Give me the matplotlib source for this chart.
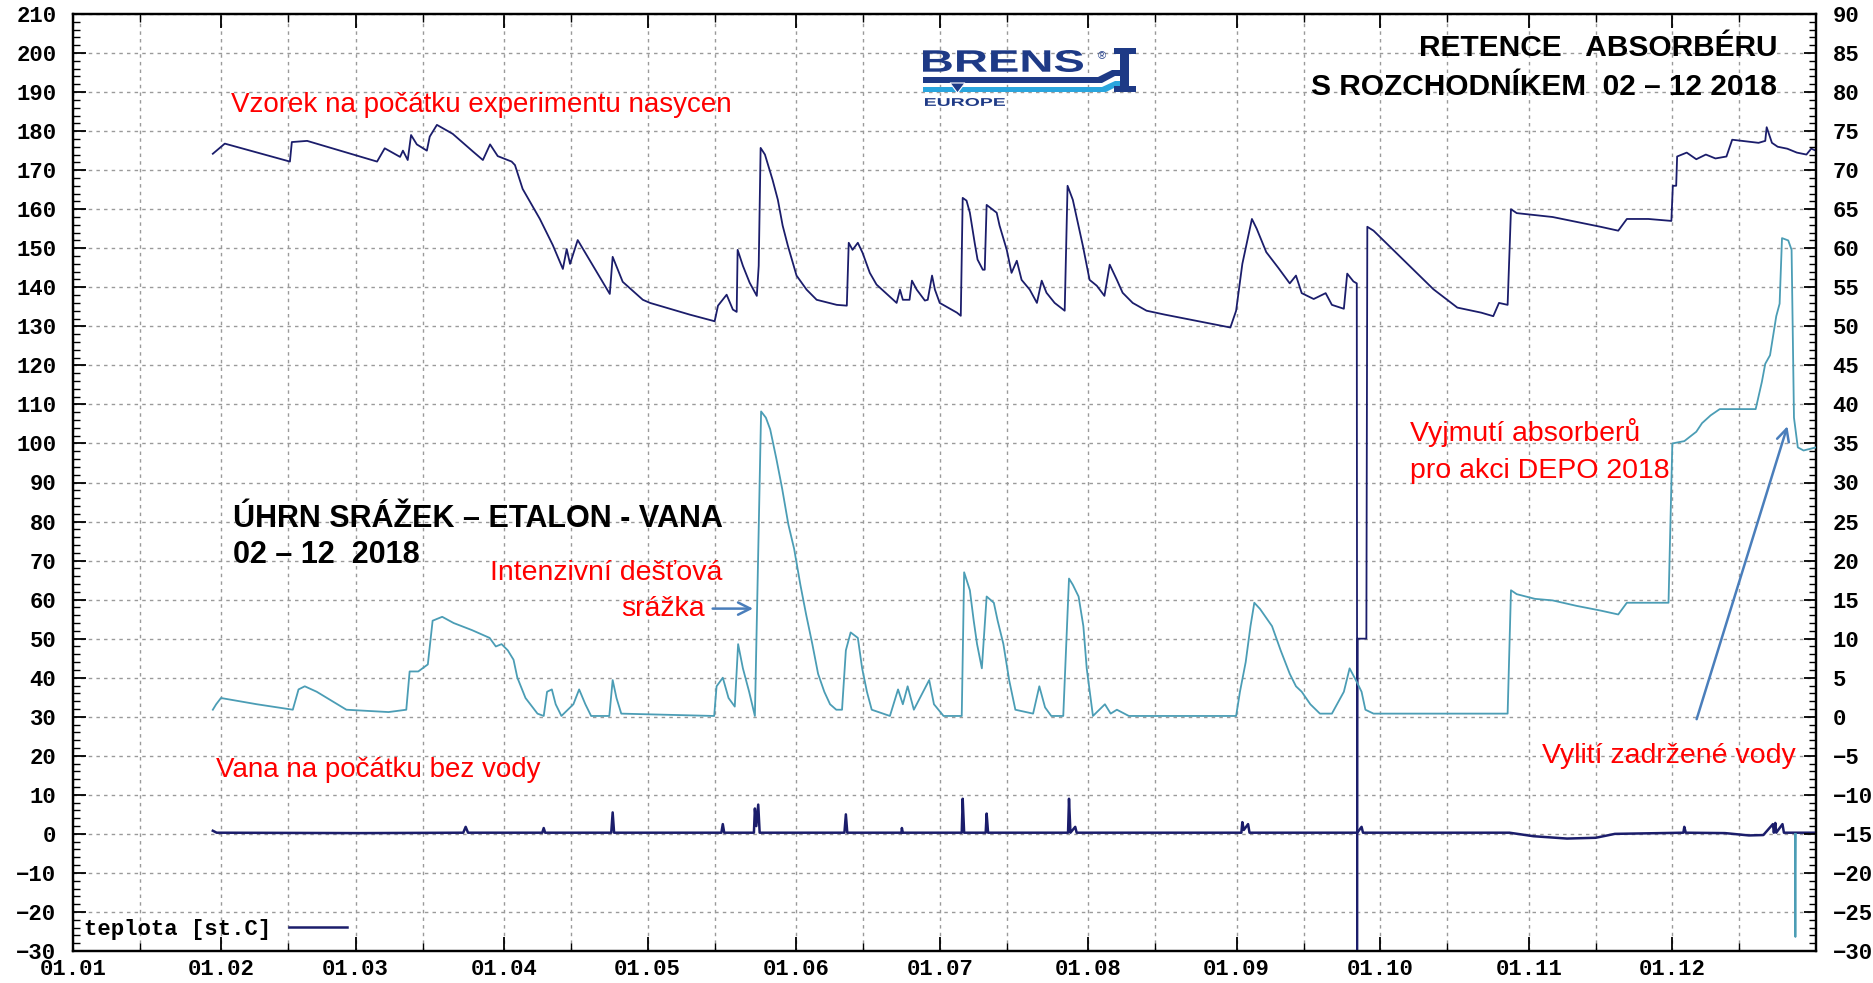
import matplotlib
matplotlib.use("Agg")
import matplotlib.pyplot as plt
from matplotlib.ticker import FixedLocator, MultipleLocator
from matplotlib.textpath import TextPath
from matplotlib.patches import PathPatch, Polygon, Rectangle
from matplotlib.font_manager import FontProperties
from matplotlib.transforms import Affine2D

W, H = 1873, 983

# x axis: day of year 2018
month_days = [0, 31, 59, 90, 120, 151, 181, 212, 243, 273, 304, 334]
month_labels = ["01.01", "01.02", "01.03", "01.04", "01.05", "01.06",
                "01.07", "01.08", "01.09", "01.10", "01.11", "01.12"]
mid_days = [14, 45, 73, 104, 134, 165, 195, 226, 257, 287, 318, 348]

# sample (Vzorek) - left axis
sample_days = [29.2, 31.7, 45.3, 45.7, 48.9, 63.5, 65.1, 68.3, 68.9, 69.9, 70.6, 71.8,
               73.9, 74.5, 76.0, 79.3, 83.5, 85.6, 87.1, 88.7, 91.6, 92.3, 93.9, 97.5,
               100.2, 102.3, 103.1, 103.8, 105.4, 106.9, 112.1, 112.7, 114.8, 119.0, 120.5, 128.8,
               134.0, 134.7, 136.5, 137.8, 138.6, 138.8, 139.9, 141.3, 142.8, 143.2, 143.6, 144.5,
               146.1, 147.2, 148.2, 149.3, 151.1, 153.2, 155.3, 159.5, 161.6, 162.0, 162.8, 163.9,
               164.9, 166.4, 167.8, 172.0, 172.7, 173.3, 174.7, 175.2, 176.2, 177.9, 178.5, 179.4,
               180.0, 181.0, 184.6, 185.4, 185.8, 186.6, 187.3, 188.3, 188.9, 190.0, 190.4, 190.8,
               192.9, 193.5, 195.0, 196.0, 197.1, 198.1, 199.8, 201.3, 202.3, 203.3, 205.0, 207.1,
               207.7, 208.8, 210.9, 212.3, 213.8, 215.4, 216.5, 218.0, 219.2, 221.3, 224.2, 228.0,
               234.2, 241.7, 242.9, 244.2, 246.2, 247.2, 249.2, 251.7, 254.1, 255.4, 256.6, 259.1,
               261.6, 262.9, 265.4, 266.1, 267.4, 268.1, 268.2, 268.3, 270.1, 270.3, 271.6, 279.1,
               284.1, 289.1, 294.1, 296.6, 297.8, 299.6, 300.3, 301.5, 309.0, 319.0, 322.7, 324.5,
               329.0, 333.8, 334.1, 334.8, 335.0, 337.0, 339.0, 341.0, 343.0, 345.3, 346.5, 352.0,
               353.4, 353.7, 354.8, 356.0, 358.0, 360.0, 362.0, 363.0, 364.0]
sample_vals = [174.2, 176.8, 172.2, 177.2, 177.5, 172.2, 175.6, 173.4, 175.0, 172.6, 179.0, 176.6,
               175.0, 178.6, 181.6, 179.3, 174.8, 172.6, 176.6, 173.6, 172.2, 171.3, 165.2, 157.5,
               150.8, 144.7, 149.8, 146.0, 152.1, 149.0, 138.3, 147.8, 141.4, 136.8, 136.0, 133.0,
               131.3, 135.3, 138.1, 134.3, 133.7, 149.6, 145.5, 141.2, 137.8, 145.5, 175.7, 174.0,
               167.5, 162.4, 155.8, 150.6, 143.0, 139.4, 136.8, 135.5, 135.3, 151.4, 149.6, 151.4,
               148.8, 143.7, 140.7, 136.0, 139.4, 136.8, 136.8, 141.7, 139.4, 136.6, 136.8, 143.0,
               139.4, 136.0, 133.5, 132.7, 162.9, 162.2, 159.1, 151.4, 147.1, 144.5, 144.5, 161.1,
               159.1, 155.8, 149.6, 143.7, 146.8, 141.9, 139.4, 136.0, 141.7, 138.6, 136.0, 134.0,
               166.0, 162.4, 150.6, 141.9, 140.4, 137.8, 145.8, 141.9, 138.6, 136.0, 134.0, 133.0,
               131.5, 129.7, 134.0, 146.0, 157.5, 155.0, 149.0, 145.0, 141.0, 143.0, 138.5, 137.0,
               138.5, 135.5, 134.5, 143.5, 141.5, 141.0, -35.0, 50.0, 50.0, 155.5, 154.5, 145.5,
               139.5, 134.8, 133.5, 132.6, 136.0, 135.5, 160.0, 159.0, 158.0, 155.5, 154.5, 157.5,
               157.5, 157.0, 166.0, 166.0, 173.5, 174.5, 172.8, 174.0, 173.0, 173.5, 177.8, 177.0,
               177.5, 181.0, 177.0, 176.0, 175.5, 174.5, 174.0, 175.5, 175.0]

# rainfall sum (Úhrn srážek) - right axis
rain_days = [29.2, 29.9, 30.9, 34.6, 38.4, 45.9, 47.1, 48.4, 50.9, 57.1, 65.9, 69.6,
             70.3, 72.1, 74.1, 75.1, 77.1, 79.5, 83.3, 87.0, 88.3, 89.5, 90.8, 92.0,
             92.8, 94.5, 97.0, 98.3, 99.0, 100.0, 100.8, 102.0, 104.5, 105.7, 107.0, 108.2,
             112.0, 112.7, 113.5, 114.5, 133.9, 134.4, 135.7, 136.9, 138.2, 138.9, 139.9, 141.2,
             142.4, 143.7, 144.7, 145.6, 146.9, 148.1, 149.4, 150.6, 151.9, 153.1, 154.4, 155.6,
             156.9, 158.1, 159.4, 160.6, 161.4, 162.4, 163.9, 164.8, 165.8, 166.8, 170.6, 172.3,
             173.3, 174.3, 175.6, 178.8, 179.8, 181.8, 185.6, 186.1, 187.3, 188.1, 188.8, 189.8,
             190.8, 192.3, 193.1, 194.3, 195.5, 196.8, 200.5, 201.8, 203.0, 204.3, 206.8, 208.0,
             208.8, 210.0, 211.0, 211.7, 213.0, 215.5, 216.7, 218.0, 220.5, 242.9, 243.7, 244.9,
             245.9, 246.7, 247.9, 250.4, 252.2, 254.1, 255.4, 256.6, 258.4, 260.4, 262.9, 265.4,
             266.6, 267.9, 269.1, 269.9, 271.6, 299.6, 300.3, 301.5, 305.3, 309.0, 314.0, 319.0,
             322.7, 324.5, 333.2, 334.0, 336.5, 339.0, 340.2, 342.0, 343.9, 351.4, 352.7, 353.4,
             354.4, 355.7, 356.4, 356.9, 358.2, 358.9, 359.4, 360.2, 361.4, 364.0]
rain_vals = [0.9, 1.6, 2.4, 2.0, 1.6, 0.9, 3.5, 3.9, 3.2, 0.9, 0.6, 0.9,
             5.8, 5.8, 6.7, 12.3, 12.8, 12.0, 11.1, 10.1, 9.0, 9.3, 8.5, 7.3,
             5.0, 2.4, 0.4, 0.1, 3.2, 3.5, 1.6, 0.1, 1.6, 3.5, 1.6, 0.1,
             0.1, 4.7, 2.4, 0.4, 0.1, 3.9, 5.0, 2.4, 1.3, 9.3, 6.2, 3.2,
             0.1, 39.1, 38.3, 36.8, 33.0, 29.2, 24.6, 21.5, 16.9, 13.1, 9.3, 5.5,
             3.2, 1.6, 0.9, 0.9, 8.5, 10.8, 10.1, 6.2, 3.2, 0.9, 0.1, 3.5,
             1.6, 3.9, 0.9, 4.7, 1.6, 0.1, 0.1, 18.5, 16.2, 12.3, 9.3, 6.2,
             15.4, 14.6, 12.3, 9.3, 4.7, 0.9, 0.4, 3.9, 1.2, 0.1, 0.1, 17.7,
             16.9, 15.4, 11.6, 6.2, 0.1, 1.6, 0.4, 0.9, 0.1, 0.1, 3.2, 7.0,
             11.6, 14.6, 13.8, 11.6, 8.5, 5.5, 3.9, 3.2, 1.6, 0.4, 0.4, 3.2,
             6.2, 4.7, 3.2, 0.9, 0.4, 0.4, 16.2, 15.7, 15.1, 14.9, 14.2, 13.6,
             13.1, 14.6, 14.6, 35.0, 35.3, 36.5, 37.6, 38.6, 39.4, 39.4, 42.9, 45.2,
             46.3, 51.3, 52.9, 61.3, 61.0, 59.8, 38.3, 34.5, 34.1, 34.5]

# tub (Vana) - left axis, near zero
tub_days = [29.2, 30.0, 60.0, 81.5, 82.0, 82.5, 98.0, 98.3, 98.6, 112.4, 112.7, 113.0,
            135.4, 135.7, 136.0, 142.2, 142.4, 142.7, 143.1, 143.4, 161.1, 161.4, 161.7, 173.0,
            173.1, 173.3, 185.6, 185.8, 186.1, 190.6, 190.8, 191.1, 207.8, 208.0, 208.3, 209.3,
            209.6, 244.0, 244.2, 244.5, 245.4, 245.7, 268.2, 269.1, 269.4, 300.0, 305.0, 312.0,
            318.0, 322.0, 336.3, 336.5, 336.8, 345.0, 350.0, 353.0, 355.0, 355.2, 355.5, 355.7,
            357.0, 357.3, 364.0]
tub_vals = [0.8, 0.3, 0.2, 0.3, 1.8, 0.3, 0.3, 1.5, 0.3, 0.3, 5.5, 0.3,
            0.3, 2.5, 0.3, 0.3, 6.5, 2.0, 7.5, 0.3, 0.3, 5.0, 0.3, 0.3,
            1.5, 0.3, 0.3, 9.0, 0.3, 0.3, 5.2, 0.3, 0.3, 9.0, 0.3, 1.8,
            0.3, 0.3, 3.0, 1.0, 2.5, 0.3, 0.3, 1.8, 0.3, 0.3, -0.6, -1.2,
            -1.0, 0.0, 0.3, 1.8, 0.3, 0.2, -0.4, -0.3, 2.5, 0.3, 2.8, 0.3,
            2.5, 0.3, 0.3]

# drained water glitch - right axis
drain_days = [359.6, 359.7, 359.8]
drain_vals = [-15.0, -28.2, -15.0]

NAVY = "#1b1d6b"
CYAN = "#4b9db5"
RED = "#ff0000"
ARROW = "#4a7ebb"

plt.rcParams['font.family'] = ['Liberation Mono', 'DejaVu Sans Mono']
plt.rcParams['font.weight'] = 'bold'
plt.rcParams['font.size'] = 16
plt.rcParams['axes.unicode_minus'] = True

fig = plt.figure(figsize=(W / 100, H / 100), dpi=100)
ax = fig.add_axes([73 / W, (H - 951) / H, 1743 / W, 937 / H])
ax2 = ax.twinx()

ax.set_xlim(0, 364)
ax.set_ylim(-30, 210)
ax2.set_ylim(-30, 90)

ax.xaxis.set_major_locator(FixedLocator(month_days))
ax.set_xticklabels(month_labels)
ax.xaxis.set_minor_locator(FixedLocator(mid_days))
ax.yaxis.set_major_locator(MultipleLocator(10))
ax.yaxis.set_minor_locator(MultipleLocator(2))
ax2.yaxis.set_major_locator(MultipleLocator(5))
ax2.yaxis.set_minor_locator(MultipleLocator(1))

grid_kw = dict(color="#9a9a9a", linestyle=(0, (2.5, 3)), linewidth=1.0)
ax.grid(True, axis='x', which='both', **grid_kw)
ax.grid(True, axis='y', which='major', **grid_kw)
ax.set_axisbelow(True)

ax.tick_params(axis='x', which='major', direction='in', top=True, bottom=True,
               length=10, width=1.3, pad=6, labelsize=16)
ax.tick_params(axis='x', which='minor', direction='in', top=True, bottom=True,
               length=6, width=1.0)
ax.tick_params(axis='y', which='major', direction='in', length=9, width=1.3, pad=12, labelsize=16)
ax.tick_params(axis='y', which='minor', direction='in', length=5, width=1.0)
ax2.tick_params(axis='y', which='major', direction='in', length=9, width=1.3, pad=12, labelsize=16)
ax2.tick_params(axis='y', which='minor', direction='in', length=5, width=1.0)

for a in (ax, ax2):
    for sp in a.spines.values():
        sp.set_linewidth(1.6)
        sp.set_color("black")

ax.plot(sample_days, sample_vals, color=NAVY, lw=1.3, zorder=3)
tub_line, = ax.plot(tub_days, tub_vals, color=NAVY, lw=1.8, zorder=3)
ax2.plot(rain_days, rain_vals, color=CYAN, lw=1.3, zorder=3)
ax2.plot(drain_days, drain_vals, color=CYAN, lw=1.3, zorder=2)

ax.legend([tub_line], ["teplota [st.C]"], loc='lower left', frameon=False,
          markerfirst=False, handlelength=2.6, handletextpad=0.8,
          borderaxespad=0.1, borderpad=0.4,
          prop=FontProperties(family='Liberation Mono', weight='bold', size=16))

# annotations
sans = ['Liberation Sans', 'DejaVu Sans']
ax2.text(33.0, 186.8 / 2 - 15, "Vzorek na počátku experimentu nasycen", color=RED,
         fontsize=20, family=sans, weight='normal', va='center', ha='left')
ax2.text(29.9, 16.4 / 2 - 15, "Vana na počátku bez vody", color=RED,
         fontsize=20, family=sans, weight='normal', va='center', ha='left')
ax2.text(33.4, 80.6 / 2 - 15, "ÚHRN SRÁŽEK – ETALON - VANA", color="black",
         fontsize=22, family=sans, weight='bold', va='center', ha='left')
ax2.text(33.4, 71.5 / 2 - 15, "02 – 12  2018", color="black",
         fontsize=22, family=sans, weight='bold', va='center', ha='left')
ax2.text(355.9, 201.4 / 2 - 15, "RETENCE   ABSORBÉRU", color="black",
         fontsize=21.5, family=sans, weight='bold', va='center', ha='right')
ax2.text(355.9, 191.3 / 2 - 15, "S ROZCHODNÍKEM  02 – 12 2018", color="black",
         fontsize=21.5, family=sans, weight='bold', va='center', ha='right')
ax2.text(135.7, 66.9 / 2 - 15, "Intenzivní dešťová", color=RED,
         fontsize=20.5, family=sans, weight='normal', va='center', ha='right')
ax2.text(132.0, 57.7 / 2 - 15, "srážka", color=RED,
         fontsize=20.5, family=sans, weight='normal', va='center', ha='right')
ax2.annotate("", xy=(142.6, 57.7 / 2 - 15), xytext=(133.0, 57.7 / 2 - 15),
             arrowprops=dict(arrowstyle='->', color=ARROW, lw=1.8, mutation_scale=22))
ax2.text(279.3, 102.7 / 2 - 15, "Vyjmutí absorberů", color=RED,
         fontsize=20.5, family=sans, weight='normal', va='center', ha='left')
ax2.text(279.3, 92.9 / 2 - 15, "pro akci DEPO 2018", color=RED,
         fontsize=20.5, family=sans, weight='normal', va='center', ha='left')
ax2.text(306.8, 20.0 / 2 - 15, "Vylití zadržené vody", color=RED,
         fontsize=20.5, family=sans, weight='normal', va='center', ha='left')
ax2.annotate("", xy=(358.2, 105.1 / 2 - 15), xytext=(338.9, 28.7 / 2 - 15),
             arrowprops=dict(arrowstyle='->', color=ARROW, lw=1.8, mutation_scale=22))

# BRENS EUROPE logo, drawn in reference pixel coordinates
LOGO_NAVY = "#1e3a86"
LOGO_BLUE = "#2aa6de"


def px(x, y):
    return (x / W, 1 - y / H)


def fit_text(s, x0, y0, x1, y1, color):
    tp = TextPath((0, 0), s, size=10,
                  prop=FontProperties(family='Liberation Sans', weight='bold'))
    bb = tp.get_extents()
    tr = (Affine2D().translate(-bb.x0, -bb.y0)
          .scale((x1 - x0) / bb.width / W, (y1 - y0) / bb.height / H)
          .translate(x0 / W, 1 - y1 / H) + fig.transFigure)
    fig.add_artist(PathPatch(tp, transform=tr, fc=color, ec='none'))


fit_text("BRENS", 923, 50, 1083, 72, LOGO_NAVY)
fit_text("EUROPE", 925, 98, 1005, 106, LOGO_NAVY)
fig.text(1102 / W, 1 - 56 / H, "®", color=LOGO_NAVY, fontsize=8,
         family=sans, weight='normal', ha='center', va='center')
navy_band = [(923, 77), (1098, 77), (1112, 70), (1120, 70), (1120, 76),
             (1115, 76), (1102, 83), (923, 83)]
blue_band = [(923, 87), (1102, 87), (1115, 81), (1120, 81), (1120, 86),
             (1118, 86), (1106, 92), (923, 92)]
fig.add_artist(Polygon([px(*p) for p in navy_band], closed=True, fc=LOGO_NAVY, ec='none',
                       transform=fig.transFigure))
fig.add_artist(Polygon([px(*p) for p in blue_band], closed=True, fc=LOGO_BLUE, ec='none',
                       transform=fig.transFigure))
fig.add_artist(Polygon([px(950, 83), px(965, 83), px(957.5, 93)], closed=True,
                       fc=LOGO_NAVY, ec='white', lw=0.8, transform=fig.transFigure))
for (x0, y0, x1, y1) in [(1114, 48, 1136, 54), (1120, 48, 1129, 92), (1114, 86, 1136, 92)]:
    fig.add_artist(Rectangle(px(x0, y1), (x1 - x0) / W, (y1 - y0) / H, fc=LOGO_NAVY,
                             ec='none', transform=fig.transFigure))

fig.savefig("out.png", dpi=100, facecolor="white")
